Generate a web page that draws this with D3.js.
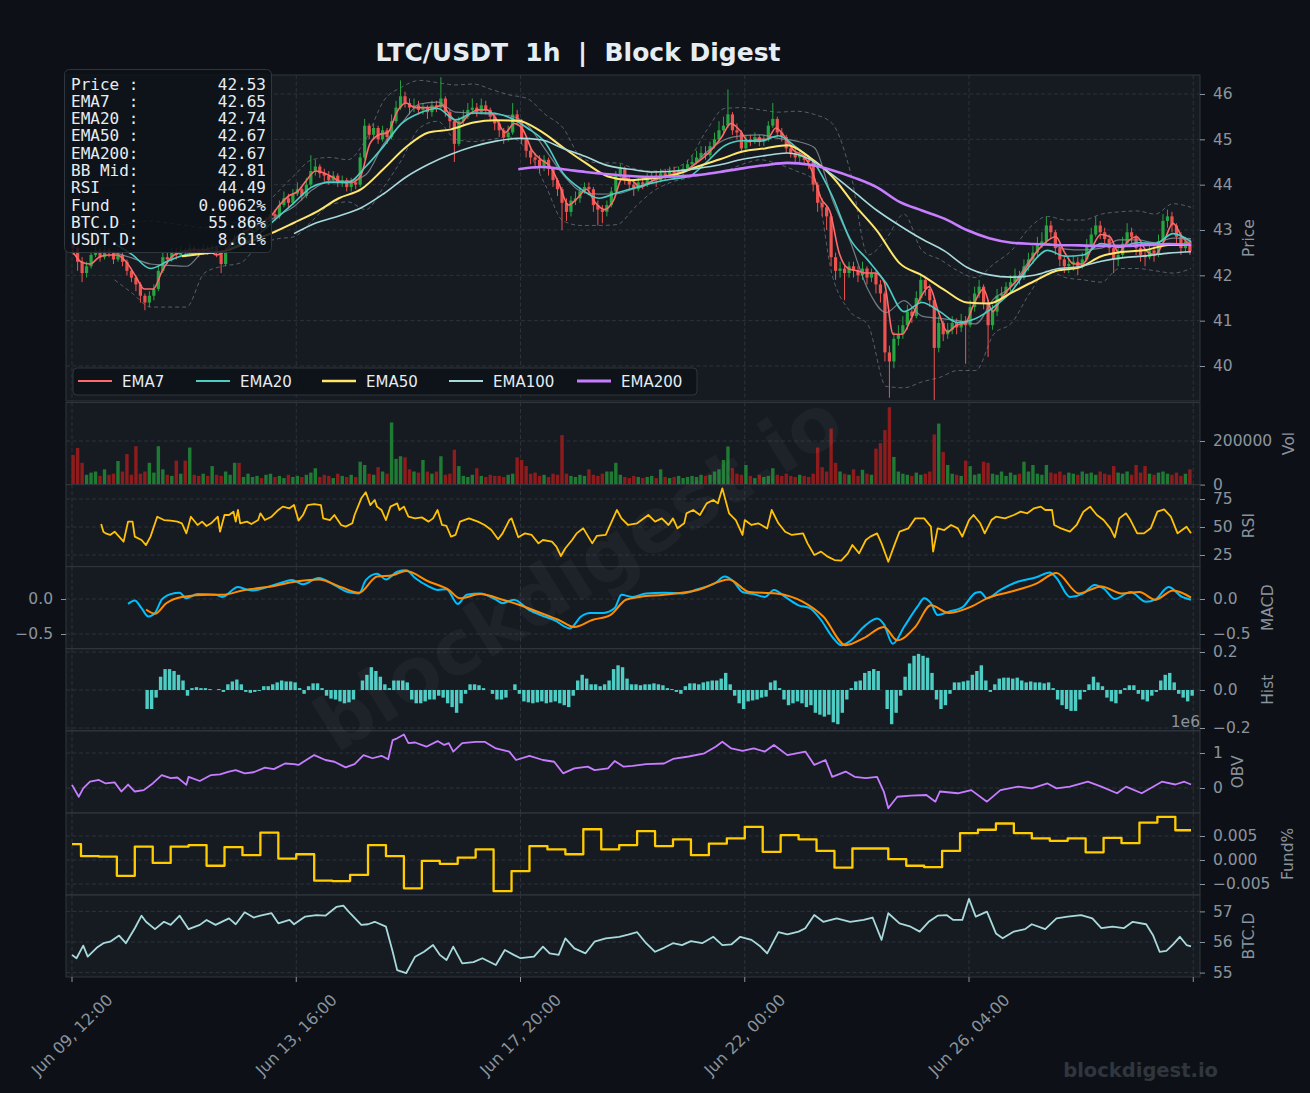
<!DOCTYPE html>
<html>
<head>
<meta charset="utf-8">
<script src="https://cdn.jsdelivr.net/npm/d3@7"></script>
<style>
  body { margin: 0; background: #0d1117; }
  svg text { font-family: "DejaVu Sans", sans-serif; }
</style>
</head>
<body>
<svg id="chart" width="1310" height="1093"></svg>
<script>
// ---- data (2h candles, hours counted from Jun 09 12:00) ----
const firstOpen = 42.75;
const closes = [
  42.60,42.30,42.05,42.20,42.45,42.55,42.40,42.55,42.50,42.35,
  42.45,42.30,42.10,41.95,41.80,41.55,41.40,41.55,41.70,42.10,
  42.40,42.35,42.50,42.45,42.55,42.50,42.60,42.55,42.50,42.60,
  42.55,42.60,42.50,42.25,42.55,42.70,42.80,42.75,42.90,42.95,
  43.00,43.10,43.05,43.20,43.35,43.30,43.55,43.70,43.60,43.80,
  43.90,43.75,44.00,44.30,44.40,44.25,44.20,44.10,44.20,44.05,
  44.10,43.95,44.05,44.00,44.60,45.30,45.10,45.25,45.00,45.20,
  45.05,45.40,45.70,45.95,45.80,45.70,45.75,45.65,45.70,45.60,
  45.75,45.70,45.90,45.60,45.40,44.90,45.40,45.50,45.65,45.70,
  45.60,45.75,45.65,45.50,45.35,45.20,45.05,45.15,45.55,45.40,
  45.00,44.75,44.60,44.55,44.40,44.55,44.35,44.10,43.90,43.60,
  43.40,43.65,43.70,43.85,43.95,43.90,43.55,43.45,43.40,43.55,
  43.85,44.20,44.35,44.10,44.00,43.90,44.05,44.00,44.15,44.20,
  44.10,44.25,44.20,44.30,44.25,44.30,44.35,44.45,44.50,44.60,
  44.70,44.65,44.85,45.00,45.20,45.30,45.55,45.20,45.15,44.80,
  45.00,44.95,45.05,44.95,45.00,45.30,45.45,45.15,45.05,44.80,
  44.70,44.60,44.65,44.55,44.50,44.00,43.60,43.50,43.30,42.40,
  42.10,42.15,42.05,42.20,42.10,42.00,42.15,41.95,42.05,41.80,
  41.60,40.30,40.10,40.60,40.70,40.90,41.20,41.10,41.50,41.90,
  41.70,41.45,40.40,40.95,40.70,40.80,40.95,40.85,41.00,40.90,
  41.30,41.60,41.75,41.40,40.90,41.20,41.55,41.60,41.75,41.85,
  42.00,41.95,42.20,42.35,42.50,42.70,42.75,43.10,42.95,42.60,
  42.35,42.20,42.25,42.30,42.20,42.35,42.65,42.90,43.10,42.95,
  42.80,42.60,42.35,42.45,42.70,42.95,42.85,42.60,42.45,42.40,
  42.55,42.45,42.75,43.20,43.30,43.10,42.85,42.60,42.75,42.53
];
const highs = [
  42.85,42.65,42.40,42.30,42.55,42.70,42.60,42.65,42.60,42.55,
  42.55,42.50,42.35,42.15,42.00,41.85,41.60,41.65,41.80,42.20,
  42.50,42.50,42.60,42.60,42.65,42.60,42.70,42.65,42.60,42.70,
  42.65,42.70,42.65,42.55,42.65,42.80,42.90,42.90,43.00,43.05,
  43.15,43.20,43.20,43.30,43.45,43.45,43.65,43.85,43.80,43.90,
  44.05,43.95,44.15,44.65,44.55,44.45,44.35,44.30,44.30,44.25,
  44.20,44.15,44.15,44.10,44.70,45.45,45.35,45.35,45.30,45.30,
  45.25,45.55,45.85,46.30,46.05,45.90,45.90,45.85,45.80,45.75,
  45.85,45.85,46.37,45.95,45.65,45.45,45.50,45.65,45.80,45.90,
  45.80,45.90,45.85,45.70,45.55,45.40,45.25,45.30,45.80,45.65,
  45.45,45.05,44.85,44.70,44.65,44.65,44.60,44.40,44.15,43.95,
  43.70,43.75,43.85,43.95,44.05,44.05,43.95,43.65,43.55,43.65,
  43.95,44.30,44.45,44.40,44.20,44.10,44.15,44.15,44.25,44.30,
  44.30,44.35,44.35,44.40,44.40,44.40,44.45,44.55,44.65,44.75,
  44.85,44.85,44.95,45.15,45.40,45.50,46.10,45.60,45.35,45.20,
  45.10,45.10,45.15,45.10,45.10,45.40,45.80,45.50,45.25,45.10,
  44.90,44.80,44.75,44.70,44.65,44.55,44.05,43.70,43.55,43.35,
  42.50,42.30,42.25,42.30,42.30,42.20,42.30,42.20,42.15,42.10,
  41.90,41.65,40.45,40.75,40.90,41.10,41.35,41.30,41.65,42.00,
  41.95,41.80,41.50,41.10,41.00,40.95,41.10,41.05,41.15,41.10,
  41.45,41.75,41.90,41.80,41.45,41.35,41.70,41.75,41.85,42.00,
  42.15,42.10,42.35,42.50,42.65,42.85,42.95,43.30,43.20,43.00,
  42.70,42.45,42.40,42.45,42.40,42.50,42.80,43.05,43.30,43.20,
  43.05,42.90,42.70,42.60,42.85,43.15,43.05,42.90,42.70,42.55,
  42.70,42.65,42.90,43.35,43.45,43.40,43.15,42.95,42.85,42.80
];
const lows = [
  42.45,42.10,41.85,41.95,42.15,42.40,42.30,42.35,42.40,42.25,
  42.30,42.20,42.00,41.85,41.65,41.40,41.23,41.30,41.45,41.65,
  42.05,42.25,42.30,42.35,42.40,42.40,42.45,42.45,42.40,42.45,
  42.45,42.50,42.40,42.05,42.20,42.50,42.65,42.65,42.70,42.85,
  42.85,42.95,42.95,43.00,43.15,43.20,43.25,43.50,43.50,43.55,
  43.75,43.65,43.70,43.95,44.20,44.15,44.05,44.00,44.05,43.95,
  43.95,43.85,43.85,43.90,43.95,44.55,45.00,45.00,44.90,44.95,
  44.90,45.00,45.35,45.65,45.70,45.55,45.60,45.55,45.55,45.45,
  45.50,45.60,45.65,45.50,45.25,44.50,44.85,45.30,45.45,45.55,
  45.50,45.55,45.55,45.40,45.20,45.05,44.90,44.95,45.10,45.30,
  44.90,44.60,44.45,44.35,44.25,44.30,44.20,43.95,43.75,43.00,
  43.20,43.30,43.55,43.60,43.80,43.80,43.40,43.10,43.15,43.30,
  43.50,43.80,44.15,44.00,43.90,43.75,43.85,43.90,43.95,44.05,
  43.95,44.05,44.10,44.15,44.15,44.20,44.20,44.30,44.40,44.45,
  44.55,44.55,44.60,44.80,44.95,45.10,45.25,45.10,45.00,44.70,
  44.75,44.85,44.90,44.85,44.85,44.95,45.25,45.05,44.95,44.70,
  44.60,44.50,44.50,44.45,44.35,43.85,43.40,43.30,43.00,42.20,
  41.90,41.95,41.45,41.95,41.95,41.85,41.90,41.80,41.85,41.60,
  41.40,40.10,39.30,39.95,40.45,40.60,40.80,40.95,41.05,41.40,
  41.55,41.30,39.25,40.30,40.55,40.60,40.70,40.70,40.75,40.05,
  40.85,41.20,41.50,41.25,40.20,40.80,41.10,41.45,41.50,41.65,
  41.75,41.80,41.90,42.10,42.25,42.40,42.60,42.70,42.80,42.45,
  42.20,42.05,42.05,42.10,42.00,42.15,42.30,42.60,42.85,42.80,
  42.65,42.45,42.05,42.20,42.40,42.65,42.70,42.45,42.30,42.20,
  42.35,42.30,42.40,42.70,43.05,42.95,42.70,42.45,42.50,42.45
];
// volume in thousands
const volumes = [
  136,168,100,45,55,60,40,70,45,50,
  108,60,140,45,176,50,60,100,55,176,
  70,45,40,110,50,110,170,45,40,50,
  40,85,45,40,60,45,100,100,35,50,
  35,40,30,45,50,35,40,30,45,35,
  40,35,45,55,75,35,45,40,30,50,
  40,35,45,35,105,90,50,45,80,60,
  50,285,118,130,125,70,60,55,113,60,
  50,60,130,45,50,160,85,40,35,45,
  75,40,35,45,40,40,35,45,50,125,
  113,85,50,55,40,45,35,50,45,227,
  50,40,35,45,40,70,45,40,50,60,
  60,100,45,35,30,40,35,30,35,40,
  30,70,35,30,35,40,30,35,40,35,
  45,40,45,60,70,113,175,75,50,45,
  90,40,30,45,35,40,75,45,40,50,
  40,35,45,40,35,50,170,80,60,257,
  100,60,50,45,70,40,68,50,45,165,
  190,250,355,127,60,50,45,40,55,45,
  50,60,230,280,150,90,50,45,40,110,
  85,45,50,105,100,50,45,60,40,55,
  45,50,105,60,90,50,45,90,55,50,
  60,45,55,50,45,60,50,55,45,60,
  50,45,85,55,50,60,45,90,55,85,
  50,45,55,60,50,45,55,40,50,70
];

// moving averages, evenly sampled from their first hour to hour 499
const ema7 = [
  42.55,42.30,42.25,42.40,42.45,42.45,42.30,42.00,41.70,41.70,
  42.10,42.40,42.50,42.55,42.55,42.55,42.45,42.55,42.80,42.95,
  43.05,43.15,43.30,43.55,43.75,43.85,44.10,44.30,44.25,44.15,
  44.05,44.05,44.20,44.90,45.10,45.15,45.60,45.80,45.70,45.70,
  45.70,45.75,45.50,45.35,45.55,45.65,45.65,45.45,45.15,45.35,
  45.20,44.75,44.55,44.40,44.00,43.55,43.70,43.90,43.60,43.45,
  43.65,44.15,44.10,43.95,44.05,44.15,44.20,44.25,44.30,44.45,
  44.60,44.80,45.05,45.35,45.20,44.95,45.00,45.00,45.25,45.05,
  44.75,44.65,44.30,43.70,43.40,42.50,42.15,42.10,42.05,42.05,
  41.85,40.70,40.70,41.05,41.50,41.75,41.20,40.75,40.90,40.95,
  41.40,41.70,41.20,41.50,41.75,41.95,42.25,42.55,42.75,42.85,
  42.50,42.25,42.25,42.60,42.90,42.85,42.50,42.75,42.85,42.55,
  42.45,42.75,43.15,42.85,42.65
];
const ema20 = [
  42.70,42.45,42.15,42.32,42.46,42.50,42.52,42.70,42.90,43.25,
  43.60,43.95,44.05,44.05,44.40,44.85,45.35,45.58,45.68,45.43,
  45.58,45.58,45.48,45.25,44.93,44.25,43.90,43.70,43.82,43.93,
  44.04,44.12,44.18,44.50,44.86,44.97,44.96,45.08,44.82,44.48,
  43.75,42.80,42.33,41.83,41.20,41.40,41.20,40.96,41.05,41.30,
  41.65,42.20,42.55,42.42,42.45,42.70,42.62,42.72,42.70,42.92,
  42.74
];
const ema50 = [
  42.42,42.48,42.55,42.74,42.93,43.16,43.40,43.70,43.90,44.35,
  44.83,45.15,45.22,45.37,45.42,45.41,45.18,44.82,44.48,44.18,
  44.10,44.14,44.22,44.40,44.56,44.73,44.80,44.87,44.60,44.18,
  43.55,42.98,42.27,42.00,41.68,41.40,41.38,41.62,41.87,42.10,
  42.17,42.42,42.52,42.56,42.67,42.67
];
const ema100 = [
  42.92,43.16,43.31,43.49,43.80,44.17,44.45,44.67,44.84,44.96,
  45.02,44.99,44.80,44.62,44.42,44.34,44.28,44.30,44.36,44.44,
  44.56,44.64,44.70,44.56,44.22,43.83,43.43,43.10,42.80,42.54,
  42.18,42.01,41.96,42.00,42.14,42.19,42.31,42.39,42.43,42.49,
  42.52
];
const ema200 = [
  44.34,44.39,44.34,44.28,44.23,44.19,44.17,44.18,44.21,44.28,
  44.36,44.43,44.48,44.44,44.32,44.15,43.94,43.62,43.43,43.25,
  43.00,42.82,42.72,42.69,42.67,42.66,42.65,42.65,42.67,42.69,
  42.67
];
const bbUpper = [
  43.10,43.15,43.20,43.15,43.10,43.05,43.10,43.20,43.40,43.80,
  44.20,44.55,44.60,44.55,45.00,45.85,46.15,46.30,46.25,46.20,
  46.22,46.10,45.98,45.90,45.55,45.25,44.60,44.48,44.48,44.35,
  44.30,44.35,44.55,45.20,45.68,45.70,45.65,45.60,45.62,45.55,
  45.35,44.30,42.45,42.80,43.35,42.55,42.35,42.10,41.95,42.25,
  42.55,43.05,43.30,43.22,43.22,43.35,43.40,43.42,43.35,43.58,
  43.50
];
const bbLower = [
  41.90,41.60,41.30,41.30,41.30,42.05,42.20,42.27,42.65,42.80,
  42.85,43.20,43.55,43.62,43.45,43.95,44.55,45.25,45.40,45.00,
  44.95,45.00,45.05,44.75,44.00,43.20,43.10,43.10,43.12,43.50,
  43.85,44.05,44.15,44.25,44.30,44.45,44.55,44.45,44.30,44.10,
  42.00,41.20,40.90,39.55,39.52,39.65,39.75,39.90,39.90,40.70,
  40.95,41.60,42.10,41.95,41.90,41.85,42.15,42.15,42.10,42.05,
  42.15
];
const bbMid = [
  42.50,42.38,42.25,42.22,42.20,42.55,42.65,42.74,43.02,43.30,
  43.52,43.88,44.08,44.08,44.22,44.90,45.35,45.78,45.82,45.60,
  45.58,45.55,45.52,45.32,44.78,44.22,43.85,43.79,43.80,43.92,
  44.08,44.20,44.35,44.72,44.99,45.08,45.10,45.02,44.96,44.82,
  43.68,42.75,41.68,41.18,41.44,41.10,41.05,41.00,40.93,41.48,
  41.75,42.33,42.70,42.58,42.56,42.60,42.78,42.78,42.72,42.82,
  42.81
];

// indicator readings as [hour, value]
const rsi = [
  [13,52.7],[14,45.8],[15,44.3],[17,42.9],[19,45.8],[21,41.4],[23,36.9],[25,54.8],[27,54.8],[28,41.4],
  [31,38.4],[33,33.9],[35,41.4],[38,59.2],[41,56.2],[44,55.7],[47,54.8],[49,53.3],[51,44.3],[53,59.2],
  [56,51.8],[58,54.8],[60,50.9],[62,53.3],[65,59.2],[66,45.8],[68,60.7],[70,60.7],[72,63.7],[73,54.8],
  [74,65.2],[75,53.3],[78,54.8],[80,52.7],[83,56.2],[84,62.2],[86,56.2],[89,59.2],[92,65.2],[94,68.2],
  [97,66.7],[99,69.6],[101,55.7],[103,60.7],[105,69.6],[108,70.5],[111,69.6],[112,57.7],[115,56.2],[117,60.7],
  [120,51.8],[122,50.3],[125,53.3],[126,60.7],[129,75.6],[131,81.0],[133,69.6],[135,74.1],[136,68.2],[138,65.2],
  [140,56.2],[142,68.2],[145,71.1],[146,65.2],[148,68.2],[150,59.2],[153,57.7],[156,58.6],[159,54.8],[161,57.7],
  [163,65.2],[165,51.8],[167,50.9],[169,41.4],[171,42.9],[173,54.8],[177,57.7],[181,54.8],[184,51.8],[187,47.3],
  [190,39.0],[192,44.3],[195,56.2],[196,57.7],[199,40.8],[202,44.3],[205,42.9],[208,35.4],[210,38.4],[214,36.9],
  [216,32.4],[218,24.1],[220,31.0],[223,38.4],[225,44.3],[228,48.8],[232,35.4],[234,42.0],[238,42.9],[243,65.2],
  [245,57.7],[248,51.8],[252,53.3],[257,60.7],[260,54.8],[263,57.7],[266,51.8],[268,57.7],[270,48.8],[273,53.3],
  [274,62.2],[277,65.2],[280,60.7],[283,71.1],[286,74.1],[288,71.1],[290,84.5],[293,62.2],[296,56.2],[299,42.9],
  [300,56.2],[303,51.8],[306,53.3],[310,48.8],[312,65.2],[315,53.3],[318,45.8],[321,42.9],[326,44.3],[328,35.4],
  [331,25.0],[334,28.0],[337,23.5],[340,20.5],[343,19.9],[346,26.5],[348,33.9],[351,26.5],[354,38.4],[356,41.4],
  [359,44.3],[361,35.4],[364,19.0],[367,35.4],[369,45.8],[373,48.8],[376,57.7],[380,57.7],[383,50.3],[384,28.0],
  [386,48.8],[389,47.3],[392,51.8],[395,48.8],[397,41.4],[400,56.2],[402,60.7],[405,53.3],[407,44.3],[410,56.2],
  [412,59.2],[416,57.7],[420,60.7],[423,63.7],[426,62.2],[429,66.7],[432,68.2],[434,65.2],[437,65.2],[438,51.8],
  [441,48.8],[445,45.8],[448,51.8],[451,63.7],[454,68.2],[457,60.7],[460,56.2],[463,48.8],[465,40.8],[467,57.7],
  [470,62.2],[472,56.2],[475,44.3],[478,44.3],[481,48.8],[484,63.7],[487,65.8],[490,59.2],[493,44.3],[495,47.3],
  [497,50.3],[499,44.5]
];
const macd = [
  [25,-0.07],[28,-0.02],[31,-0.13],[34,-0.25],[37,-0.20],[40,-0.01],[44,0.07],[48,0.09],[51,0.01],[56,0.07],
  [64,0.06],[67,0.03],[74,0.17],[80,0.12],[87,0.17],[93,0.23],[98,0.27],[103,0.21],[110,0.30],[117,0.20],
  [123,0.10],[128,0.08],[131,0.27],[136,0.36],[140,0.28],[145,0.39],[149,0.41],[153,0.30],[159,0.18],[163,0.13],
  [167,0.14],[172,-0.07],[176,0.06],[182,0.08],[189,-0.01],[192,-0.06],[197,-0.01],[204,-0.16],[209,-0.23],[215,-0.30],
  [222,-0.42],[227,-0.25],[231,-0.20],[237,-0.20],[242,-0.13],[245,0.06],[250,0.03],[256,0.08],[264,0.09],[272,0.08],
  [279,0.14],[287,0.23],[291,0.32],[295,0.25],[299,0.10],[304,0.07],[309,0.03],[313,0.13],[318,0.03],[324,-0.09],
  [329,-0.13],[334,-0.30],[339,-0.54],[343,-0.66],[347,-0.60],[353,-0.40],[359,-0.28],[362,-0.36],[366,-0.64],[371,-0.40],
  [377,-0.11],[380,0.01],[383,-0.06],[386,-0.23],[391,-0.18],[397,-0.12],[403,0.09],[405,0.10],[408,0.01],[414,0.13],
  [422,0.25],[430,0.31],[436,0.38],[439,0.30],[445,0.03],[451,0.08],[456,0.20],[460,0.15],[465,0.00],[472,0.10],
  [479,-0.04],[483,-0.01],[489,0.17],[495,0.03],[499,-0.01]
];
const signal = [
  [33,-0.15],[37,-0.21],[42,-0.06],[49,0.03],[61,0.06],[67,0.06],[77,0.13],[87,0.17],[100,0.25],[110,0.28],
  [120,0.17],[128,0.09],[136,0.32],[143,0.34],[149,0.40],[159,0.25],[168,0.13],[173,0.01],[182,0.07],[192,-0.01],
  [200,-0.09],[209,-0.20],[217,-0.30],[224,-0.40],[232,-0.30],[240,-0.23],[247,-0.01],[253,0.03],[264,0.06],[279,0.13],
  [293,0.28],[302,0.10],[314,0.08],[326,-0.04],[335,-0.25],[345,-0.66],[353,-0.56],[362,-0.40],[368,-0.59],[376,-0.40],
  [383,-0.09],[391,-0.20],[401,-0.11],[408,0.01],[418,0.10],[430,0.22],[439,0.37],[449,0.08],[459,0.18],[468,0.08],
  [476,0.10],[483,-0.01],[491,0.12],[499,0.02]
];
// histogram, one bar per 2h from hour 33
const histStart = 33;
const hist = [
  -0.10,-0.10,-0.04,0.07,0.11,0.11,0.10,0.08,0.05,-0.03,
  0.01,0.015,0.01,0.01,0.005,0.00,0.005,-0.01,0.03,0.045,
  0.055,0.03,-0.01,-0.015,-0.01,-0.005,0.02,0.02,0.03,0.04,
  0.05,0.045,0.045,0.04,0.01,-0.02,0.02,0.035,0.035,0.01,
  -0.03,-0.045,-0.05,-0.06,-0.07,-0.065,-0.05,0.00,0.05,0.08,
  0.12,0.10,0.07,0.03,0.01,0.05,0.05,0.05,0.04,-0.05,
  -0.07,-0.07,-0.06,-0.05,-0.05,-0.03,-0.04,-0.07,-0.09,-0.12,
  -0.07,-0.02,0.03,0.03,0.025,0.01,0.00,-0.02,-0.05,-0.05,
  -0.04,0.00,0.03,-0.02,-0.06,-0.065,-0.07,-0.065,-0.06,-0.07,
  -0.065,-0.06,-0.07,-0.08,-0.09,-0.03,0.05,0.08,0.06,0.03,
  0.03,0.02,0.03,0.05,0.11,0.13,0.12,0.06,0.03,0.03,
  0.025,0.03,0.03,0.035,0.03,0.025,0.01,0.005,-0.01,-0.02,
  0.02,0.035,0.035,0.03,0.04,0.045,0.05,0.05,0.06,0.09,
  0.03,-0.03,-0.07,-0.10,-0.06,-0.055,-0.05,-0.04,-0.035,0.04,
  0.05,0.01,-0.05,-0.08,-0.07,-0.06,-0.07,-0.09,-0.08,-0.12,
  -0.13,-0.14,-0.13,-0.17,-0.18,-0.12,-0.05,0.01,0.045,0.05,
  0.09,0.10,0.11,0.10,0.00,-0.10,-0.18,-0.12,-0.03,0.07,
  0.14,0.18,0.19,0.18,0.17,0.09,-0.05,-0.10,-0.08,-0.02,
  0.04,0.04,0.045,0.05,0.08,0.10,0.13,0.05,-0.01,0.03,
  0.06,0.065,0.065,0.06,0.065,0.05,0.04,0.045,0.04,0.04,
  0.035,0.04,0.01,-0.05,-0.08,-0.10,-0.11,-0.11,-0.05,-0.01,
  0.03,0.07,0.04,0.02,-0.04,-0.06,-0.07,-0.02,0.01,0.025,
  0.025,-0.02,-0.05,-0.06,-0.03,-0.01,0.05,0.08,0.09,0.04,
  -0.02,-0.04,-0.06,-0.03
];
// OBV in millions
const obv = [
  [0,0.09],[3,-0.25],[5,-0.01],[8,0.18],[12,0.23],[15,0.13],[19,0.16],[22,-0.10],[25,0.10],[28,-0.10],
  [32,-0.06],[36,0.13],[40,0.37],[44,0.28],[47,0.30],[51,0.09],[52,0.32],[57,0.20],[62,0.37],[66,0.39],
  [70,0.47],[73,0.51],[77,0.42],[81,0.45],[86,0.58],[90,0.54],[95,0.70],[99,0.68],[101,0.66],[108,0.94],
  [113,0.80],[117,0.75],[122,0.59],[126,0.68],[130,0.94],[134,0.85],[138,0.92],[141,0.82],[143,1.37],[145,1.42],
  [148,1.53],[150,1.28],[153,1.30],[158,1.18],[163,1.34],[166,1.23],[168,1.28],[170,1.04],[174,1.28],[180,1.32],
  [184,1.32],[189,1.13],[195,1.04],[198,0.80],[204,0.92],[210,0.80],[215,0.75],[219,0.42],[224,0.56],[230,0.61],
  [233,0.51],[239,0.56],[242,0.77],[246,0.61],[250,0.63],[256,0.68],[264,0.70],[268,0.83],[275,0.90],[282,0.99],
  [287,1.18],[290,1.32],[294,1.13],[299,1.06],[304,1.13],[309,1.04],[313,1.23],[319,0.94],[327,1.04],[331,0.66],
  [336,0.80],[339,0.32],[345,0.47],[349,0.32],[354,0.28],[359,0.32],[362,-0.10],[364,-0.58],[368,-0.25],[374,-0.22],
  [381,-0.20],[385,-0.39],[387,-0.10],[395,-0.15],[401,-0.06],[408,-0.39],[414,-0.06],[422,0.04],[428,-0.01],[435,0.13],
  [439,-0.01],[445,0.04],[453,0.18],[459,0.04],[466,-0.15],[470,0.04],[477,-0.15],[486,0.18],[492,0.10],[496,0.18],
  [499,0.10]
];
// funding rate (%) per 8h period, with period start hours
const fundHours = [0,4,12,20,28,36,44,52,60,68,76,84,92,100,108,116,124,132,140,148,156,164,172,180,188,196,
  204,212,220,228,236,244,252,260,268,276,284,292,300,308,316,324,332,340,348,356,364,372,380,388,396,404,412,
  420,428,436,444,452,460,468,476,484,492];
const fundVals = [0.0033,0.0008,0.0007,-0.0033,0.0028,-0.0006,0.0028,0.0031,-0.0012,0.0027,
  0.0010,0.0057,0.0003,0.0012,-0.0043,-0.0044,-0.0031,0.0031,0.0008,-0.0059,
  -0.0002,-0.0008,0.0005,0.0022,-0.0065,-0.0023,0.0029,0.0022,0.0012,0.0064,
  0.0022,0.0031,0.0060,0.0029,0.0043,0.0010,0.0034,0.0045,0.0069,0.0017,
  0.0052,0.0043,0.0019,-0.0016,0.0024,0.0024,0.0002,-0.0012,-0.0015,0.0019,
  0.0056,0.0063,0.0076,0.0056,0.0045,0.0040,0.0045,0.0016,0.0046,0.0035,
  0.0078,0.0090,0.0062];
const btcDom = [
  [0,55.58],[2,55.47],[5,55.88],[7,55.52],[11,55.81],[14,55.96],[17,56.01],[21,56.21],[24,55.96],[28,56.45],
  [31,56.86],[33,56.66],[37,56.42],[41,56.66],[44,56.56],[48,56.86],[52,56.42],[57,56.56],[60,56.72],[64,56.56],
  [70,56.77],[73,56.58],[77,56.97],[81,56.80],[84,56.86],[89,56.94],[92,56.61],[97,56.72],[99,56.58],[104,56.83],
  [109,56.88],[113,56.86],[118,57.15],[121,57.19],[124,56.94],[129,56.56],[132,56.58],[135,56.66],[140,56.50],[143,55.68],
  [145,55.08],[149,54.98],[153,55.52],[157,55.68],[161,55.90],[164,55.58],[167,55.41],[170,55.85],[174,55.30],[179,55.34],
  [183,55.47],[189,55.25],[193,55.74],[197,55.58],[200,55.47],[206,55.52],[210,55.85],[213,55.63],[217,55.58],[220,56.12],
  [224,55.79],[229,55.63],[233,56.01],[238,56.12],[244,56.17],[248,56.24],[252,56.32],[256,55.96],[260,55.68],[264,55.81],
  [268,55.96],[272,55.90],[276,56.03],[281,55.96],[286,56.17],[290,55.90],[294,55.92],[298,56.17],[303,56.07],[307,55.85],
  [310,55.63],[315,56.32],[319,56.25],[324,56.34],[327,56.45],[331,56.88],[335,56.66],[341,56.77],[347,56.66],[353,56.72],
  [357,56.80],[361,56.07],[364,56.94],[369,56.61],[374,56.50],[378,56.34],[382,56.66],[386,56.86],[390,56.88],[393,56.72],
  [397,56.72],[400,57.41],[403,56.83],[408,56.99],[412,56.28],[415,56.12],[420,56.34],[425,56.42],[428,56.58],[434,56.42],
  [439,56.77],[444,56.83],[450,56.88],[455,56.77],[459,56.45],[464,56.50],[469,56.45],[473,56.66],[479,56.58],[482,56.23],
  [485,55.68],[488,55.71],[491,55.92],[494,56.17],[497,55.90],[499,55.86]
];
const infoRows = [
  ["Price :", "42.53"], ["EMA7  :", "42.65"], ["EMA20 :", "42.74"], ["EMA50 :", "42.67"],
  ["EMA200:", "42.67"], ["BB Mid:", "42.81"], ["RSI   :", "44.49"], ["Fund  :", "0.0062%"],
  ["BTC.D :", "55.86%"], ["USDT.D:", "8.61%"]
];
const xTickHours = [0, 100, 200, 300, 400, 500];
const lastHour = 499;

// ---- setup ----
const W = 1310, H = 1093, L = 66, R = 1200;
const GREEN = "#26a641", RED = "#ef5350";
const GRID = "#30363d", TXT = "#8b949e";
const t0 = Date.UTC(2025, 5, 9, 12);
const hr = h => new Date(t0 + h * 3600000);

const svg = d3.select("#chart");
svg.append("rect").attr("width", W).attr("height", H).attr("fill", "#0d1117");

const x = d3.scaleUtc().domain([hr(-2.68), hr(503)]).range([L, R]);
const xh = h => x(hr(h));
const even = (vals, start) => vals.map((v, i) => [start + i * (lastHour - start) / (vals.length - 1), v]);

const panels = [
  {key: "price", y0: 75, y1: 401, dom: [39.228, 46.419], ticks: [40,41,42,43,44,45,46], fmt: d3.format("d"), label: "Price", lx: 1249},
  {key: "vol", y0: 402.5, y1: 484.6, dom: [0, 376600], ticks: [0, 200000], fmt: d3.format("d"), label: "Vol", lx: 1289},
  {key: "rsi", y0: 484.6, y1: 566.6, dom: [14.64, 87.86], ticks: [25, 50, 75], fmt: d3.format("d"), label: "RSI", lx: 1249},
  {key: "macd", y0: 566.6, y1: 648.7, dom: [-0.71, 0.463], ticks: [-0.5, 0], fmt: d3.format(".1f"), label: "MACD", lx: 1268, left: true},
  {key: "hist", y0: 648.7, y1: 730.8, dom: [-0.2147, 0.2174], ticks: [-0.2, 0, 0.2], fmt: d3.format(".1f"), label: "Hist", lx: 1268},
  {key: "obv", y0: 730.8, y1: 812.9, dom: [-0.711, 1.634], ticks: [0, 1], fmt: d3.format("d"), label: "OBV", lx: 1238},
  {key: "fund", y0: 812.9, y1: 894.9, dom: [-0.00727, 0.00981], ticks: [-0.005, 0, 0.005], fmt: d3.format(".3f"), label: "Fund%", lx: 1288},
  {key: "btc", y0: 894.9, y1: 977, dom: [54.856, 57.539], ticks: [55, 56, 57], fmt: d3.format("d"), label: "BTC.D", lx: 1249}
];
const P = {};
const defs = svg.append("defs");

panels.forEach(p => {
  P[p.key] = p;
  p.y = d3.scaleLinear().domain(p.dom).range([p.y1, p.y0]);
  const g = svg.append("g");
  g.append("rect").attr("x", L).attr("y", p.y0).attr("width", R - L).attr("height", p.y1 - p.y0).attr("fill", "#161b22");
  defs.append("clipPath").attr("id", "clip-" + p.key).append("rect")
    .attr("x", L).attr("y", p.y0).attr("width", R - L).attr("height", p.y1 - p.y0);
  g.selectAll("line.gh").data(p.ticks).join("line").attr("class", "gh")
    .attr("x1", L).attr("x2", R).attr("y1", d => p.y(d)).attr("y2", d => p.y(d))
    .attr("stroke", GRID).attr("stroke-width", 0.9).attr("stroke-dasharray", "4,2.5");
  g.selectAll("line.gv").data(xTickHours).join("line").attr("class", "gv")
    .attr("x1", d => xh(d)).attr("x2", d => xh(d)).attr("y1", p.y0).attr("y2", p.y1)
    .attr("stroke", GRID).attr("stroke-width", 0.9).attr("stroke-dasharray", "4,2.5");
  p.plot = svg.append("g").attr("clip-path", `url(#clip-${p.key})`);
});

// ---- price panel ----
const yP = P.price.y;
const bbLine = d3.line().x(d => xh(d[0])).y(d => yP(d[1])).curve(d3.curveMonotoneX);
[bbUpper, bbLower].forEach(arr => {
  P.price.plot.append("path").datum(even(arr, 19)).attr("d", bbLine)
    .attr("fill", "none").attr("stroke", "#8b949e").attr("stroke-opacity", 0.55)
    .attr("stroke-width", 1).attr("stroke-dasharray", "4,3");
});

const candles = closes.map((c, i) => ({h: 2 * i + 0.5, o: i ? closes[i - 1] : firstOpen, c, hi: highs[i], lo: lows[i], v: volumes[i] * 1000}));
const isUp = d => d.c >= d.o;
const cg = P.price.plot.append("g");
cg.selectAll("line").data(candles).join("line")
  .attr("x1", d => xh(d.h)).attr("x2", d => xh(d.h))
  .attr("y1", d => yP(d.hi)).attr("y2", d => yP(d.lo))
  .attr("stroke", d => isUp(d) ? GREEN : RED).attr("stroke-width", 1);
cg.selectAll("rect").data(candles).join("rect")
  .attr("x", d => xh(d.h) - 1.6).attr("width", 3.2)
  .attr("y", d => yP(Math.max(d.o, d.c)))
  .attr("height", d => Math.max(1, Math.abs(yP(d.o) - yP(d.c))))
  .attr("fill", d => isUp(d) ? GREEN : RED);

const smooth = d3.line().x(d => xh(d[0])).y(d => yP(d[1])).curve(d3.curveMonotoneX);
P.price.plot.append("path").datum(even(bbMid, 19)).attr("d", smooth)
  .attr("fill", "none").attr("stroke", "#8b949e").attr("stroke-opacity", 0.8).attr("stroke-width", 1.2);

const emaSeries = [
  {name: "EMA7", vals: ema7, start: 0, color: "#ff6b6b", w: 1.6},
  {name: "EMA20", vals: ema20, start: 19, color: "#4ecdc4", w: 1.6},
  {name: "EMA50", vals: ema50, start: 49, color: "#ffe66d", w: 2},
  {name: "EMA100", vals: ema100, start: 99, color: "#a8dadc", w: 1.6},
  {name: "EMA200", vals: ema200, start: 199, color: "#c77dff", w: 2.6}
];
emaSeries.forEach(s => {
  P.price.plot.append("path").datum(even(s.vals, s.start)).attr("d", smooth)
    .attr("fill", "none").attr("stroke", s.color).attr("stroke-width", s.w);
});

// ---- volume ----
P.vol.plot.selectAll("rect").data(candles).join("rect")
  .attr("x", d => xh(d.h) - 1.7).attr("width", 3.4)
  .attr("y", d => P.vol.y(d.v)).attr("height", d => P.vol.y(0) - P.vol.y(d.v))
  .attr("fill", d => isUp(d) ? "#1f7a33" : "#8e1c1c");

// ---- simple line panels ----
function drawLine(p, pts, color, width, curve) {
  const gen = d3.line().x(d => xh(d[0])).y(d => p.y(d[1])).curve(curve || d3.curveLinear);
  p.plot.append("path").datum(pts).attr("d", gen)
    .attr("fill", "none").attr("stroke", color).attr("stroke-width", width).attr("stroke-linejoin", "round");
}
drawLine(P.rsi, rsi, "#ffc107", 1.8);
drawLine(P.macd, macd, "#00bfff", 2, d3.curveMonotoneX);
drawLine(P.macd, signal, "#ff8c00", 2, d3.curveMonotoneX);
drawLine(P.obv, obv, "#c77dff", 1.8);
drawLine(P.btc, btcDom, "#a8dadc", 1.8);
const fundPts = fundHours.map((h, i) => [h, fundVals[i]]).concat([[lastHour, fundVals[fundVals.length - 1]]]);
drawLine(P.fund, fundPts, "#ffcc00", 2.3, d3.curveStepAfter);

P.hist.plot.selectAll("rect").data(hist).join("rect")
  .attr("x", (d, i) => xh(histStart + 2 * i + 0.5) - 1.7).attr("width", 3.4)
  .attr("y", d => P.hist.y(Math.max(0, d)))
  .attr("height", d => Math.abs(P.hist.y(d) - P.hist.y(0)))
  .attr("fill", "#4ecdc4");

// ---- frames, axes, labels ----
panels.forEach(p => {
  svg.append("rect").attr("x", L).attr("y", p.y0).attr("width", R - L).attr("height", p.y1 - p.y0)
    .attr("fill", "none").attr("stroke", GRID).attr("stroke-width", 1);
  const ax = svg.append("g").attr("transform", `translate(${R},0)`)
    .call(d3.axisRight(p.y).tickValues(p.ticks).tickFormat(p.fmt).tickSize(5).tickPadding(8));
  ax.select(".domain").remove();
  ax.selectAll("line").attr("stroke", TXT);
  ax.selectAll("text").attr("fill", TXT).style("font-size", "15.5px").style("font-family", "DejaVu Sans");
  if (p.left) {
    const al = svg.append("g").attr("transform", `translate(${L},0)`)
      .call(d3.axisLeft(p.y).tickValues(p.ticks).tickFormat(p.fmt).tickSize(5).tickPadding(8));
    al.select(".domain").remove();
    al.selectAll("line").attr("stroke", TXT);
    al.selectAll("text").attr("fill", TXT).style("font-size", "15.5px").style("font-family", "DejaVu Sans");
  }
  svg.append("text").attr("transform", `translate(${p.lx},${(p.y0 + p.y1) / 2}) rotate(-90)`)
    .attr("text-anchor", "middle").attr("dominant-baseline", "central")
    .attr("fill", TXT).style("font-size", "15.5px").text(p.label);
});

// OBV offset text
svg.append("text").attr("x", R).attr("y", 727).attr("text-anchor", "end")
  .attr("fill", TXT).style("font-size", "15.5px").text("1e6");

// x axis
const fmtDate = d3.utcFormat("%b %d, %H:%M");
const xa = svg.append("g").attr("transform", `translate(0,${P.btc.y1})`);
xa.selectAll("line").data(xTickHours).join("line")
  .attr("x1", d => xh(d)).attr("x2", d => xh(d)).attr("y1", 0).attr("y2", 5).attr("stroke", TXT);
xa.selectAll("text").data(xTickHours.slice(0, 5)).join("text")
  .attr("transform", d => `translate(${xh(d)},58) rotate(-45)`)
  .attr("text-anchor", "middle").attr("dominant-baseline", "central")
  .attr("fill", TXT).style("font-size", "16px").text(d => fmtDate(hr(d)));

// title
svg.append("text").attr("x", 578).attr("y", 61).attr("text-anchor", "middle")
  .attr("fill", "#e6edf3").style("font-size", "25px").style("font-weight", "bold")
  .style("white-space", "pre").text("LTC/USDT  1h  |  Block Digest");

// legend
const lg = svg.append("g");
lg.append("rect").attr("x", 73).attr("y", 368).attr("width", 624).attr("height", 27).attr("rx", 4)
  .attr("fill", "#0d1117").attr("fill-opacity", 0.85).attr("stroke", GRID);
const legendX = [78, 196, 322, 449, 577];
emaSeries.forEach((s, i) => {
  lg.append("line").attr("x1", legendX[i]).attr("x2", legendX[i] + 34).attr("y1", 381).attr("y2", 381)
    .attr("stroke", s.color).attr("stroke-width", s.w + 0.6);
  lg.append("text").attr("x", legendX[i] + 44).attr("y", 386.5).attr("fill", "#e6edf3")
    .style("font-size", "15px").text(s.name);
});

// info box
const ib = svg.append("g");
ib.append("rect").attr("x", 64.5).attr("y", 69.5).attr("width", 207).attr("height", 183).attr("rx", 5)
  .attr("fill", "#0d1117").attr("fill-opacity", 0.85).attr("stroke", GRID);
infoRows.forEach((r, i) => {
  ib.append("text").attr("x", 71).attr("y", 89.5 + i * 17.33).attr("fill", "#e6edf3")
    .style("font-family", "DejaVu Sans Mono").style("font-size", "16px").style("white-space", "pre").text(r[0]);
  ib.append("text").attr("x", 266).attr("y", 89.5 + i * 17.33).attr("text-anchor", "end").attr("fill", "#e6edf3")
    .style("font-family", "DejaVu Sans Mono").style("font-size", "16px").text(r[1]);
});

// watermarks
svg.append("text").attr("transform", "translate(578,572) rotate(-32)")
  .attr("text-anchor", "middle").attr("dominant-baseline", "central")
  .attr("fill", "#ffffff").attr("fill-opacity", 0.035)
  .style("font-size", "76px").style("font-weight", "bold").text("blockdigest.io");
svg.append("text").attr("x", 1218).attr("y", 1077).attr("text-anchor", "end")
  .attr("fill", "#30363d").style("font-size", "19.5px").style("font-weight", "bold").text("blockdigest.io");
</script>
</body>
</html>
